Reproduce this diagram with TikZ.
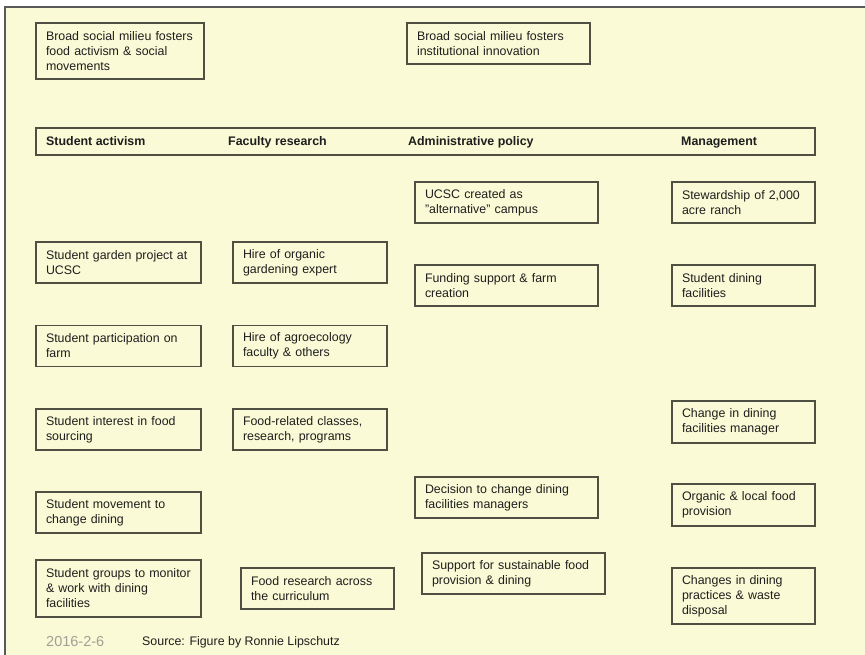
\documentclass[tikz,border=0pt]{standalone}
\usepackage{fontspec}
\setmainfont{Liberation Sans}
\definecolor{panel}{RGB}{250,250,214}
\definecolor{boxline}{RGB}{80,80,66}
\definecolor{frameline}{RGB}{90,90,90}
\definecolor{ink}{RGB}{30,30,30}
\definecolor{dategray}{RGB}{160,160,150}
\newcommand{\dq}{\symbol{34}}
\tikzset{
  box/.style={draw=boxline, line width=1.4pt, inner xsep=10pt, inner ysep=0pt,
    align=left, text=ink, font=\fontsize{12.4}{15}\selectfont, anchor=center},
  wide/.style={text width=163pt, minimum height=41pt},
  colA/.style={text width=145pt, minimum height=41pt},
  colB/.style={text width=134pt, minimum height=41pt},
  colD/.style={text width=123pt, minimum height=41pt},
  head/.style={anchor=base west, inner sep=0pt, text=ink, font=\fontsize{12.4}{15}\selectfont\bfseries},
}
\begin{document}
\begin{tikzpicture}[x=1pt, y=-1pt]
  \useasboundingbox (0,0) rectangle (865,655);
  % background panel with its frame on the top and left
  \fill[white] (0,0) rectangle (865,655);
  \fill[panel] (5,7) rectangle (865,655);
  \draw[frameline, line width=1.8pt] (5,655) -- (5,7) -- (865,7);

  % broad social milieu
  \node[box, text width=148pt, minimum height=56pt] (milieuA) at (120,51)
    {Broad social milieu fosters\\food activism \& social\\movements};
  \node[box, wide] (milieuB) at (498.5,43.5)
    {Broad social milieu fosters\\institutional innovation};

  % column headings
  \node[box, minimum width=779pt, minimum height=27pt] (header) at (425.5,141.5) {};
  \node[head] (hStudent) at (46,146) {Student activism};
  \node[head] (hFaculty) at (228,146) {Faculty research};
  \node[head] (hAdmin) at (408,146) {Administrative policy};
  \node[head] (hMgmt) at (681,146) {Management};

  % student activism
  \node[box, colA] (garden) at (118.5,262.5) {Student garden project at\\UCSC};
  \node[box, colA] (particip) at (118.5,346) {Student participation on\\farm};
  \node[box, colA] (interest) at (118.5,429.5) {Student interest in food\\sourcing};
  \node[box, colA] (movement) at (118.5,512.5) {Student movement to\\change dining};
  \node[box, colA, minimum height=57pt] (groups) at (118.5,588.5)
    {Student groups to monitor\\\& work with dining\\facilities};

  % faculty research
  \node[box, colB] (hireOrg) at (310,262.5) {Hire of organic\\gardening expert};
  \node[box, colB] (hireAgro) at (310,346) {Hire of agroecology\\faculty \& others};
  \node[box, colB] (classes) at (310,429.5) {Food-related classes,\\research, programs};
  \node[box, text width=133pt, minimum height=41pt] (curric) at (317.5,588.5)
    {Food research across\\the curriculum};

  % administrative policy
  \node[box, wide] (ucsc) at (506.5,202.5) {UCSC created as\\\dq alternative\dq\ campus};
  \node[box, wide] (funding) at (506.5,285.5) {Funding support \& farm\\creation};
  \node[box, wide] (decision) at (506.5,497.5) {Decision to change dining\\facilities managers};
  \node[box, wide] (support) at (513.5,573.5) {Support for sustainable food\\provision \& dining};

  % management
  \node[box, colD] (ranch) at (743.5,202.5) {Stewardship of 2,000\\acre ranch};
  \node[box, colD] (dining) at (743.5,285.5) {Student dining\\facilities};
  \node[box, colD, minimum height=42pt] (manager) at (743.5,422) {Change in dining\\facilities manager};
  \node[box, colD, minimum height=42pt] (organic) at (743.5,505) {Organic \& local food\\provision};
  \node[box, colD, minimum height=56pt] (practices) at (743.5,596)
    {Changes in dining\\practices \& waste\\disposal};

  % footer
  \node[anchor=west, inner sep=0pt, text=dategray, font=\fontsize{14.5}{16}\selectfont] (date) at (46,642) {2016-2-6};
  \node[anchor=west, inner sep=0pt, text=ink, font=\fontsize{12.4}{15}\selectfont] (source) at (142,642)
    {Source: Figure by Ronnie Lipschutz};
\end{tikzpicture}
\end{document}
